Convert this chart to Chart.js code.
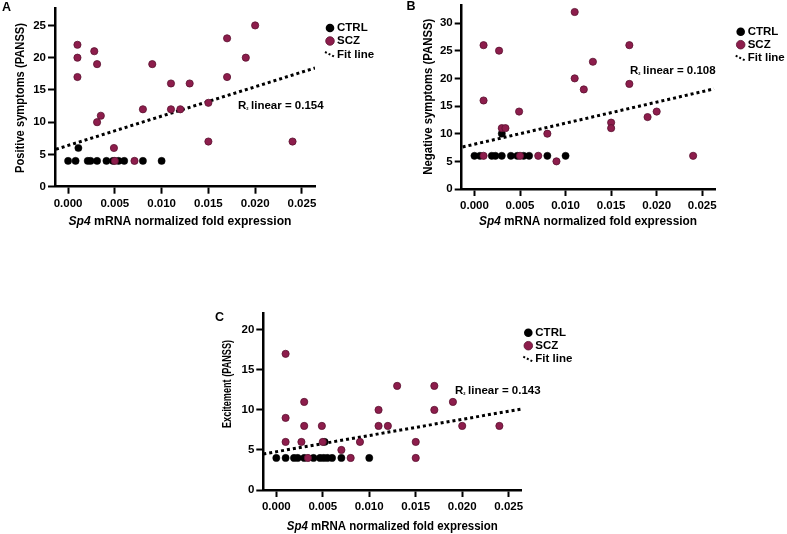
<!DOCTYPE html>
<html>
<head>
<meta charset="utf-8">
<script src="https://cdn.jsdelivr.net/npm/chart.js@4.4.1/dist/chart.umd.min.js"></script>
<style>
  body { margin: 0; background: #fff; width: 787px; height: 534px; position: relative; overflow: hidden; }
  canvas { position: absolute; }
</style>
</head>
<body>
<canvas id="cA" width="400" height="240" style="left:0;top:0"></canvas>
<canvas id="cB" width="387" height="240" style="left:400px;top:0"></canvas>
<canvas id="cC" width="387" height="234" style="left:200px;top:300px"></canvas>
<script>
// shared x axis ticks
const xTicks = [0, 0.005, 0.01, 0.015, 0.02, 0.025];

// A - positive symptoms
const ctrlA = [[0,4],[0.0008,4],[0.0011,6],[0.0021,4],[0.0024,4],[0.0031,4],[0.0041,4],[0.0048,4],[0.0054,4],[0.006,4],[0.008,4],[0.01,4]];
const sczA = [[0.001,22],[0.001,20],[0.001,17],[0.0028,21],[0.0031,19],[0.0031,10],[0.0035,11],[0.0049,6],[0.005,4],[0.0071,4],[0.008,12],[0.009,19],[0.011,16],[0.011,12],[0.012,12],[0.013,16],[0.015,13],[0.015,7],[0.017,23],[0.017,17],[0.019,20],[0.02,25],[0.024,7]];
const fitA = [[-0.0013,5.8],[0.0264,18.4]];
const yTicksA = [0,5,10,15,20,25];

// B - negative symptoms
const ctrlB = [[0,6],[0.0006,6],[0.0019,6],[0.0023,6],[0.003,6],[0.003,10],[0.004,6],[0.0047,6],[0.0054,6],[0.006,6],[0.008,6],[0.01,6]];
const sczB = [[0.001,26],[0.001,16],[0.001,6],[0.0027,25],[0.003,11],[0.0034,11],[0.0049,14],[0.005,6],[0.007,6],[0.008,10],[0.009,5],[0.011,32],[0.011,20],[0.012,18],[0.013,23],[0.015,12],[0.015,11],[0.017,26],[0.017,19],[0.019,13],[0.02,14],[0.024,6]];
const fitB = [[-0.0013,7.6],[0.0263,18.1]];
const yTicksB = [0,5,10,15,20,25,30];

// C - excitement
const ctrlC = [[0,4],[0.001,4],[0.0019,4],[0.0023,4],[0.003,4],[0.004,4],[0.0047,4],[0.0051,4],[0.0052,6],[0.0055,4],[0.006,4],[0.007,4],[0.01,4]];
const sczC = [[0.001,17],[0.001,9],[0.001,6],[0.0027,6],[0.003,11],[0.003,8],[0.0034,4],[0.0049,8],[0.005,6],[0.007,5],[0.008,4],[0.009,6],[0.011,10],[0.011,8],[0.012,8],[0.013,13],[0.015,6],[0.015,4],[0.017,13],[0.017,10],[0.019,11],[0.02,8],[0.024,8]];
const fitC = [[-0.0014,4.5],[0.0263,10.1]];
const yTicksC = [0,5,10,15,20];

const FONT = '"Liberation Sans", Arial, sans-serif';
const MAROON = '#8d1d4c';

const toPts = arr => arr.map(d => ({ x: d[0], y: d[1] }));

// draws bold text centred at 0,0, squeezed along its run to span len px
function squeezedText(ctx, parts, len) {
  let w = 0;
  parts.forEach(pt => { ctx.font = pt.f; w += ctx.measureText(pt.t).width; });
  ctx.scale(len / w, 1);
  let x = -w / 2;
  ctx.textAlign = 'left';
  parts.forEach(pt => {
    ctx.font = pt.f;
    ctx.fillText(pt.t, x, 0);
    x += ctx.measureText(pt.t).width;
  });
}

function decor(p) {
  return {
    id: 'decor',
    afterDraw(chart) {
      const ctx = chart.ctx;
      const bold = 'bold 12px ' + FONT;
      ctx.save();
      ctx.fillStyle = '#000';
      ctx.textBaseline = 'middle';
      ctx.textAlign = 'left';
      ctx.font = 'bold 12.5px ' + FONT;
      ctx.fillText(p.letter, p.letterX, p.letterY);

      // y title
      ctx.save();
      ctx.translate(p.yTitleX, p.yTitleY);
      ctx.rotate(-Math.PI / 2);
      squeezedText(ctx, [{ t: p.yTitle, f: bold }], p.yTitleLen);
      ctx.restore();

      // x title, gene name in italics
      ctx.save();
      ctx.translate(p.xTitleX, p.xTitleY);
      squeezedText(ctx, [{ t: 'Sp4', f: 'italic ' + bold }, { t: ' mRNA normalized fold expression', f: bold }], p.xTitleLen);
      ctx.restore();

      // R2 annotation
      ctx.textAlign = 'left';
      ctx.font = 'bold 11.5px ' + FONT;
      ctx.fillText('R', p.rX, p.rY);
      const wR = ctx.measureText('R').width;
      ctx.font = 'bold 4px ' + FONT;
      ctx.fillText('2', p.rX + wR, p.rY + 3);
      ctx.font = 'bold 11.5px ' + FONT;
      ctx.fillText(' linear = ' + p.r2, p.rX + wR + 1.5, p.rY);

      // legend
      const lx = p.legX, ly = p.legY;
      ctx.beginPath();
      ctx.arc(lx, ly, 4.3, 0, Math.PI * 2);
      ctx.fillStyle = '#000';
      ctx.fill();
      ctx.beginPath();
      ctx.arc(lx, ly + 13, 4.3, 0, Math.PI * 2);
      ctx.fillStyle = MAROON;
      ctx.fill();
      ctx.lineWidth = 0.8;
      ctx.strokeStyle = '#5a1230';
      ctx.stroke();
      ctx.beginPath();
      ctx.setLineDash([2, 2]);
      ctx.lineWidth = 2;
      ctx.strokeStyle = '#000';
      ctx.moveTo(lx - 5, ly + 24);
      ctx.lineTo(lx + 4, ly + 28.5);
      ctx.stroke();
      ctx.setLineDash([]);
      ctx.fillStyle = '#000';
      ctx.font = 'bold 11.5px ' + FONT;
      ctx.fillText('CTRL', lx + 7, ly);
      ctx.fillText('SCZ', lx + 7, ly + 13);
      ctx.fillText('Fit line', lx + 7, ly + 26.5);
      ctx.restore();
    }
  };
}

function makePanel(id, p) {
  const tickFont = { family: FONT, weight: 'bold', size: 11.5 };
  return new Chart(document.getElementById(id), {
    type: 'scatter',
    data: {
      datasets: [
        { data: toPts(p.scz), backgroundColor: MAROON, borderColor: '#5a1230', borderWidth: 0.8, pointRadius: 3.6 },
        { data: toPts(p.ctrl), backgroundColor: '#000', borderColor: '#000', borderWidth: 0.5, pointRadius: 3.6 },
        { type: 'line', data: toPts(p.fit), borderColor: '#000', borderWidth: 3, borderDash: [3, 3],
          pointRadius: 0, fill: false, tension: 0 }
      ]
    },
    options: {
      responsive: false,
      animation: false,
      events: [],
      layout: { padding: { left: 0, top: p.top, right: p.right, bottom: 0 } },
      plugins: { legend: { display: false }, tooltip: { enabled: false } },
      scales: {
        x: {
          type: 'linear', min: -0.0014, max: 0.0264,
          afterBuildTicks: s => { s.ticks = xTicks.map(v => ({ value: v })); },
          afterFit: s => { s.height = p.xh; s.paddingLeft = 0; s.paddingRight = 0; },
          ticks: { font: tickFont, color: '#000', padding: 3, maxRotation: 0, callback: v => v.toFixed(3) },
          grid: { drawOnChartArea: false, drawTicks: true, tickLength: 7, tickWidth: 2, tickColor: '#000' },
          border: { color: '#000', width: 2.5 }
        },
        y: {
          min: 0, max: p.ymax,
          afterBuildTicks: s => { s.ticks = p.yTicks.map(v => ({ value: v })); },
          afterFit: s => { s.width = p.yw; s.paddingTop = 0; s.paddingBottom = 0; },
          ticks: { font: tickFont, color: '#000', padding: 2 },
          grid: { drawOnChartArea: false, drawTicks: true, tickLength: 7, tickWidth: 2, tickColor: '#000' },
          border: { color: '#000', width: 2.5 }
        }
      }
    },
    plugins: [decor(p)]
  });
}

makePanel('cA', {
  ctrl: ctrlA, scz: sczA, fit: fitA, yTicks: yTicksA, ymax: 27.7,
  yw: 55, xh: 53.3, top: 8, right: 85,
  letter: 'A', letterX: 2, letterY: 7.5,
  yTitle: 'Positive symptoms (PANSS)', yTitleX: 21, yTitleY: 98, yTitleLen: 150,
  xTitleX: 180, xTitleY: 221.5, xTitleLen: 223,
  r2: '0.154', rX: 238, rY: 106,
  legX: 330, legY: 28
});

makePanel('cB', {
  ctrl: ctrlB, scz: sczB, fit: fitB, yTicks: yTicksB, ymax: 33.3,
  yw: 61.7, xh: 51, top: 4, right: 72,
  letter: 'B', letterX: 6.5, letterY: 7,
  yTitle: 'Negative symptoms (PANSS)', yTitleX: 28.3, yTitleY: 96.7, yTitleLen: 156,
  xTitleX: 188, xTitleY: 221.5, xTitleLen: 218,
  r2: '0.108', rX: 230, rY: 71,
  legX: 340.7, legY: 31.7
});

makePanel('cC', {
  ctrl: ctrlC, scz: sczC, fit: fitC, yTicks: yTicksC, ymax: 22.1,
  yw: 63.3, xh: 44, top: 13, right: 65.3,
  letter: 'C', letterX: 15, letterY: 17.2,
  yTitle: 'Excitement (PANSS)', yTitleX: 28, yTitleY: 84, yTitleLen: 88,
  xTitleX: 192.3, xTitleY: 226.7, xTitleLen: 211,
  r2: '0.143', rX: 255, rY: 90.7,
  legX: 328.3, legY: 32.7
});
</script>
</body>
</html>
